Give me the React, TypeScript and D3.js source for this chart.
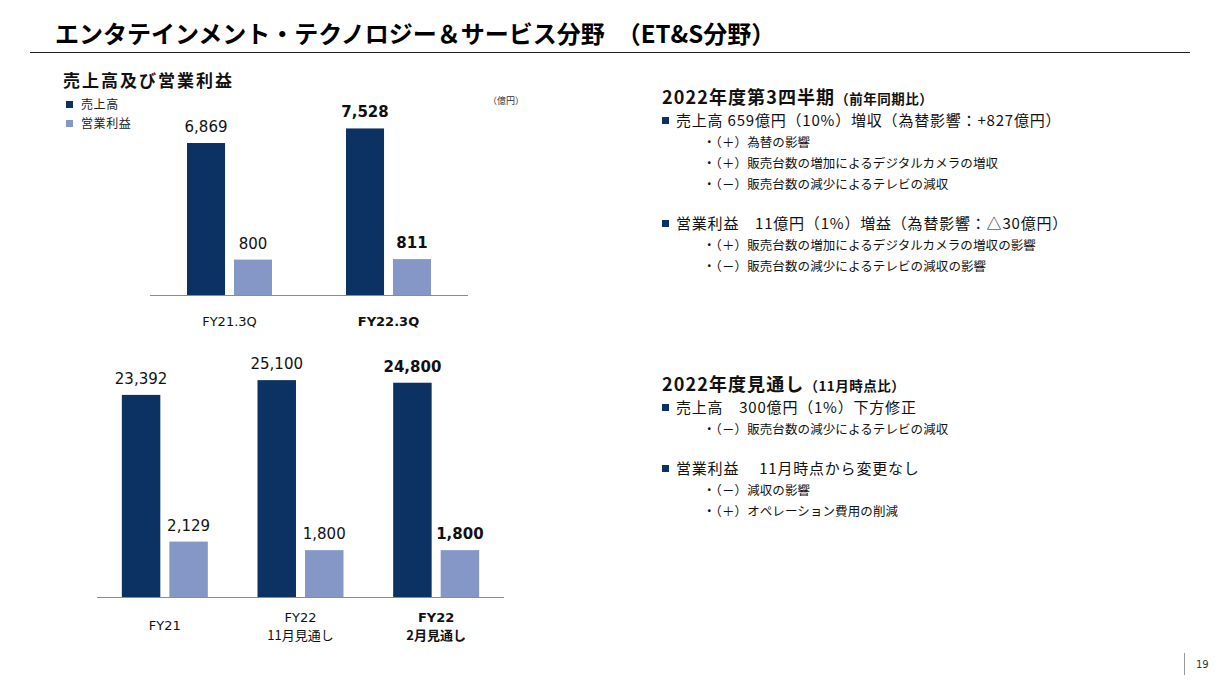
import React from "react";
import * as d3 from "d3";

const quarterCategories = ["FY21.3Q", "FY22.3Q"];
const quarterSales = [6869, 7528];
const quarterProfit = [800, 811];

const yearCategories = [["FY21"], ["FY22", "11月見通し"], ["FY22", "2月見通し"]];
const yearSales = [23392, 25100, 24800];
const yearProfit = [2129, 1800, 1800];

const seriesNames = ["売上高", "営業利益"];

const quarterHeading = "2022年度第3四半期";
const quarterHeadingNote = "（前年同期比）";
const quarterLines = [
  { kind: "main", text: "売上高 659億円（10%）増収（為替影響：+827億円）" },
  { kind: "sub", text: "・（＋）為替の影響" },
  { kind: "sub", text: "・（＋）販売台数の増加によるデジタルカメラの増収" },
  { kind: "sub", text: "・（－）販売台数の減少によるテレビの減収" },
  { kind: "gap", text: "" },
  { kind: "main", text: "営業利益　11億円（1%）増益（為替影響：△30億円）" },
  { kind: "sub", text: "・（＋）販売台数の増加によるデジタルカメラの増収の影響" },
  { kind: "sub", text: "・（－）販売台数の減少によるテレビの減収の影響" },
];

const outlookHeading = "2022年度見通し";
const outlookHeadingNote = "（11月時点比）";
const outlookLines = [
  { kind: "main", text: "売上高　300億円（1%）下方修正" },
  { kind: "sub", text: "・（－）販売台数の減少によるテレビの減収" },
  { kind: "gap", text: "" },
  { kind: "main", text: "営業利益　 11月時点から変更なし" },
  { kind: "sub", text: "・（－）減収の影響" },
  { kind: "sub", text: "・（＋）オペレーション費用の削減" },
];

const NAVY = "#0b3262";
const LIGHT = "#8597c7";
const JP = "'Noto Sans CJK JP', 'Noto Sans', sans-serif";
const NUM = "'DejaVu Sans', Verdana, sans-serif";

function BarGroup({ cats, sales, profit, x0, x1, baseline, salesMax, profitMax, height, pairWidth, labelLines }) {
  const xs = d3.scaleBand().domain(cats.map((_, i) => String(i))).range([x0, x1]);
  const ySales = d3.scaleLinear().domain([0, salesMax]).range([baseline, baseline - height]);
  const yProfit = d3.scaleLinear().domain([0, profitMax]).range([baseline, baseline - height]);
  const last = cats.length - 1;
  return (
    <g>
      {cats.map((c, i) => {
        const cx = xs(String(i)) + xs.bandwidth() / 2;
        const inner = d3.scaleBand().domain(["s", "p"]).range([cx - pairWidth / 2, cx + pairWidth / 2]).paddingInner(0.19);
        const bw = inner.bandwidth();
        const bold = i === last;
        const sTop = ySales(sales[i]);
        const pTop = yProfit(profit[i]);
        const lines = labelLines[i];
        return (
          <g key={i}>
            <rect x={inner("s")} y={sTop} width={bw} height={baseline - sTop} fill={NAVY} />
            <rect x={inner("p")} y={pTop} width={bw} height={baseline - pTop} fill={LIGHT} />
            <text x={inner("s") + bw / 2} y={sTop - 11} textAnchor="middle" fontFamily={NUM} fontSize={15} fontWeight={bold ? "bold" : "normal"} fill="#111">{d3.format(",")(sales[i])}</text>
            <text x={inner("p") + bw / 2} y={pTop - 11} textAnchor="middle" fontFamily={NUM} fontSize={15} fontWeight={bold ? "bold" : "normal"} fill="#111">{d3.format(",")(profit[i])}</text>
            {lines.map((ln, j) => {
              const y = lines.length === 1 ? labelLines.centerSingle : labelLines.centerFirst + j * 18;
              return (
                <text key={j} x={cx} y={y + 5} textAnchor="middle" fontFamily={j === 0 ? NUM : JP} fontSize={13} fontWeight={bold ? "bold" : "normal"} fill="#111">{ln}</text>
              );
            })}
          </g>
        );
      })}
      <line x1={x0} x2={x1} y1={baseline + 0.5} y2={baseline + 0.5} stroke="#8c8c8c" strokeWidth={1.2} />
    </g>
  );
}

function TextBlock({ x, y, heading, note, lines }) {
  let cy = y + 24;
  const items = [];
  lines.forEach((ln, i) => {
    if (ln.kind === "gap") {
      cy += 19;
      return;
    }
    if (ln.kind === "main") {
      items.push(
        <g key={i}>
          <rect x={x} y={cy - 4} width={7} height={7} fill={NAVY} />
          <text x={x + 14} y={cy + 5} fontFamily={JP} fontSize={15} letterSpacing={0.8} fill="#111">{ln.text}</text>
        </g>
      );
    } else {
      items.push(
        <text key={i} x={x + 41} y={cy + 4.5} fontFamily={JP} fontSize={12.5} letterSpacing={0.1} fill="#111">{ln.text}</text>
      );
    }
    cy += 21;
  });
  return (
    <g>
      <text x={x} y={y + 6.5} fontFamily={JP} fontSize={18} letterSpacing={1.1} fontWeight="bold" fill="#111">
        {heading}
        <tspan fontSize={13.5} letterSpacing={0.5}>{note}</tspan>
      </text>
      {items}
    </g>
  );
}

export default function App() {
  const topLabels: any = quarterCategories.map((c) => [c]);
  topLabels.centerSingle = 321;
  topLabels.centerFirst = 321;
  const bottomLabels: any = yearCategories.slice();
  bottomLabels.centerSingle = 625;
  bottomLabels.centerFirst = 617;

  return (
    <svg width={1221} height={683} style={{ position: "absolute", left: 0, top: 0, background: "#fff" }}>
      <rect width={1221} height={683} fill="#fff" />
      <text x={55} y={43} fontFamily={JP} fontSize={24} fontWeight="bold" fill="#000">エンタテインメント・テクノロジー＆サービス分野　（ET&amp;S分野）</text>
      <line x1={30} x2={1190} y1={52.5} y2={52.5} stroke="#222" strokeWidth={1} />

      <text x={63} y={86.5} fontFamily={JP} fontSize={17} letterSpacing={2} fontWeight="bold" fill="#111">売上高及び営業利益</text>
      {seriesNames.map((s, i) => (
        <g key={s}>
          <rect x={66} y={101 + i * 19} width={7} height={7} fill={i === 0 ? NAVY : LIGHT} />
          <text x={81} y={109 + i * 19} fontFamily={JP} fontSize={12} letterSpacing={0.6} fill="#222">{s}</text>
        </g>
      ))}
      <text x={488} y={104} fontFamily={JP} fontSize={9} fill="#333">（億円）</text>

      <BarGroup cats={quarterCategories} sales={quarterSales} profit={quarterProfit} x0={150} x1={468} baseline={295}
        salesMax={8000} profitMax={4000} height={177} pairWidth={85} labelLines={topLabels} />
      <BarGroup cats={yearCategories} sales={yearSales} profit={yearProfit} x0={97} x1={504} baseline={597}
        salesMax={25000} profitMax={8300} height={216} pairWidth={86} labelLines={bottomLabels} />

      <TextBlock x={662} y={97} heading={quarterHeading} note={quarterHeadingNote} lines={quarterLines} />
      <TextBlock x={662} y={384} heading={outlookHeading} note={outlookHeadingNote} lines={outlookLines} />

      <line x1={1184.5} x2={1184.5} y1={653} y2={675} stroke="#999" strokeWidth={1} />
      <text x={1196} y={668} fontFamily={NUM} fontSize={10} fill="#333">19</text>
    </svg>
  );
}
